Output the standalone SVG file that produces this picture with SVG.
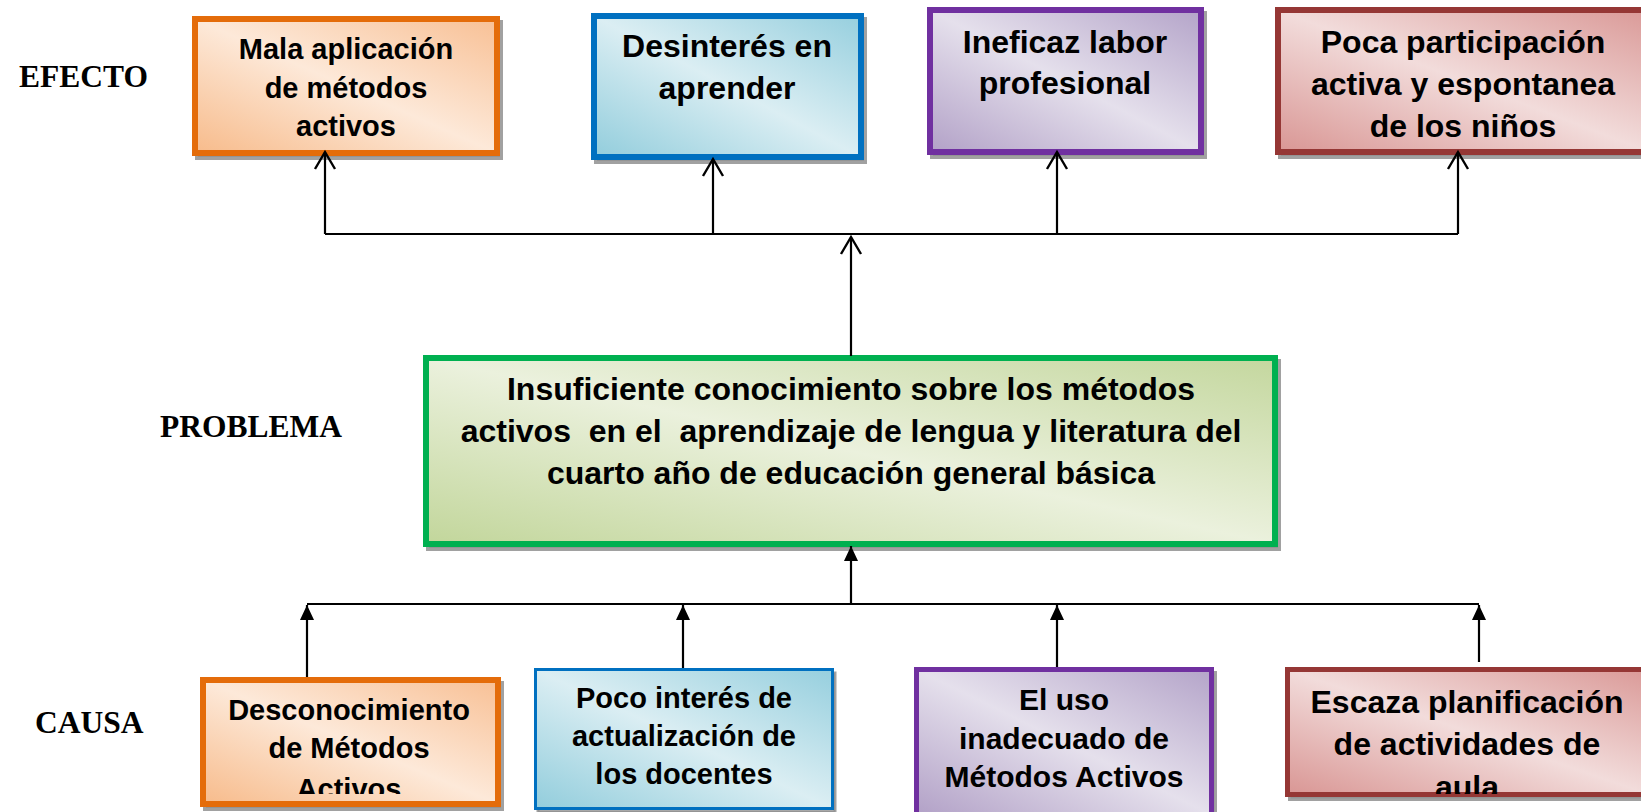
<svg xmlns="http://www.w3.org/2000/svg" width="1641" height="812" viewBox="0 0 1641 812">
<style>
.lbl{font-family:"Liberation Serif","Times New Roman",serif;font-weight:bold;font-size:31.5px;fill:#000}
.bt{font-family:"Liberation Sans",Arial,sans-serif;font-weight:bold;fill:#000;text-anchor:middle}
.f29{font-size:29px}
.f30{font-size:30px}
.f32{font-size:32px}
.shadow{fill:#bdbdbd;stroke:#8a8a8a;stroke-opacity:0.8}
.conn{fill:none;stroke:#000;stroke-width:2.2}
</style>
<defs>
<linearGradient id="gOr" x1="0" y1="1" x2="1" y2="0"><stop offset="0" stop-color="#f7bb8b"/><stop offset="0.5" stop-color="#fde9d9"/><stop offset="1" stop-color="#f8c095"/></linearGradient>
<linearGradient id="gBl" x1="0" y1="1" x2="1" y2="0"><stop offset="0" stop-color="#92cddc"/><stop offset="0.5" stop-color="#dbeef3"/><stop offset="1" stop-color="#96cfde"/></linearGradient>
<linearGradient id="gPu" x1="0" y1="1" x2="1" y2="0"><stop offset="0" stop-color="#b2a1c7"/><stop offset="0.5" stop-color="#e5e0ec"/><stop offset="1" stop-color="#b4a4c9"/></linearGradient>
<linearGradient id="gRe" x1="0" y1="1" x2="1" y2="0"><stop offset="0" stop-color="#d99694"/><stop offset="0.5" stop-color="#f2dcdb"/><stop offset="1" stop-color="#da9997"/></linearGradient>
<linearGradient id="gGr" x1="0" y1="1" x2="1" y2="0"><stop offset="0" stop-color="#c2d69b"/><stop offset="0.5" stop-color="#ebf1dd"/><stop offset="1" stop-color="#c4d79e"/></linearGradient>
<marker id="openArrow" markerUnits="userSpaceOnUse" viewBox="-20 -12 24 24" refX="0" refY="0" markerWidth="24" markerHeight="24" orient="auto" overflow="visible">
<path d="M-17,-10 L0,0 L-17,10" fill="none" stroke="#000" stroke-width="2.4"/>
</marker>
<marker id="fillArrow" markerUnits="userSpaceOnUse" viewBox="-16 -8 18 16" refX="0" refY="0" markerWidth="18" markerHeight="16" orient="auto" overflow="visible">
<path d="M-15,-7 L0,0 L-15,7 Z" fill="#000"/>
</marker>
<clipPath id="clipC1"><rect x="200" y="677" width="301" height="117"/></clipPath>
<clipPath id="clipC4"><rect x="1285" y="667" width="370" height="127"/></clipPath>
</defs>
<rect width="1641" height="812" fill="#fff"/>

<g id="labels">
<text class="lbl" x="19" y="87">EFECTO</text>
<text class="lbl" x="160" y="437">PROBLEMA</text>
<text class="lbl" x="35" y="733">CAUSA</text>
</g>

<g id="effect1">
<rect class="shadow" x="198" y="23" width="302" height="134" stroke-width="6"/>
<rect x="195" y="19" width="302" height="134" fill="url(#gOr)" stroke="#e46c0a" stroke-width="6"/>
<text class="bt f29" x="346" y="59">Mala aplicación</text>
<text class="bt f29" x="346" y="98">de métodos</text>
<text class="bt f29" x="346" y="136">activos</text>
</g>

<g id="effect2">
<rect class="shadow" x="597" y="20" width="267" height="141" stroke-width="6"/>
<rect x="594" y="16" width="267" height="141" fill="url(#gBl)" stroke="#0070c0" stroke-width="6"/>
<text class="bt f32" x="727" y="57">Desinterés en</text>
<text class="bt f32" x="727" y="99">aprender</text>
</g>

<g id="effect3">
<rect class="shadow" x="933" y="14" width="271" height="142" stroke-width="6"/>
<rect x="930" y="10" width="271" height="142" fill="url(#gPu)" stroke="#7030a0" stroke-width="6"/>
<text class="bt f32" x="1065" y="53">Ineficaz labor</text>
<text class="bt f32" x="1065" y="94">profesional</text>
</g>

<g id="effect4">
<rect class="shadow" x="1281" y="14" width="372" height="142" stroke-width="6"/>
<rect x="1278" y="10" width="372" height="142" fill="url(#gRe)" stroke="#953735" stroke-width="6"/>
<text class="bt f32" x="1463" y="53">Poca participación</text>
<text class="bt f32" x="1463" y="95">activa y espontanea</text>
<text class="bt f32" x="1463" y="137">de los niños</text>
</g>

<g id="problem">
<rect class="shadow" x="429" y="362" width="849" height="186" stroke-width="6"/>
<rect x="426" y="358" width="849" height="186" fill="url(#gGr)" stroke="#00b050" stroke-width="6"/>
<text class="bt f32" x="851" y="400">Insuficiente conocimiento sobre los métodos</text>
<text class="bt f32" x="851" y="442" xml:space="preserve" style="white-space:pre">activos  en el  aprendizaje de lengua y literatura del</text>
<text class="bt f32" x="851" y="484">cuarto año de educación general básica</text>
</g>

<g id="cause1">
<rect class="shadow" x="206" y="684" width="295" height="124" stroke-width="6"/>
<rect x="203" y="680" width="295" height="124" fill="url(#gOr)" stroke="#e46c0a" stroke-width="6"/>
<g clip-path="url(#clipC1)">
<text class="bt f29" x="349" y="720">Desconocimiento</text>
<text class="bt f29" x="349" y="758">de Métodos</text>
<text class="bt f29" x="349" y="799">Activos</text>
</g>
</g>

<g id="cause2">
<rect class="shadow" x="538" y="673" width="297" height="139" stroke-width="3"/>
<rect x="535.5" y="669.5" width="297" height="139" fill="url(#gBl)" stroke="#0070c0" stroke-width="3"/>
<text class="bt f29" x="684" y="708">Poco interés de</text>
<text class="bt f29" x="684" y="746">actualización de</text>
<text class="bt f29" x="684" y="784">los docentes</text>
</g>

<g id="cause3">
<rect class="shadow" x="919.5" y="673.5" width="295" height="145" stroke-width="5"/>
<rect x="916.5" y="669.5" width="295" height="145" fill="url(#gPu)" stroke="#7030a0" stroke-width="5"/>
<text class="bt f30" x="1064" y="710">El uso</text>
<text class="bt f30" x="1064" y="749">inadecuado de</text>
<text class="bt f30" x="1064" y="787">Métodos Activos</text>
</g>

<g id="cause4">
<rect class="shadow" x="1290.5" y="673.5" width="362" height="125" stroke-width="5"/>
<rect x="1287.5" y="669.5" width="362" height="125" fill="url(#gRe)" stroke="#953735" stroke-width="5"/>
<g clip-path="url(#clipC4)">
<text class="bt f32" x="1467" y="713">Escaza planificación</text>
<text class="bt f32" x="1467" y="755">de actividades de</text>
<text class="bt f32" x="1467" y="798">aula</text>
</g>
</g>

<g id="connectors">
<path class="conn" d="M325,234 H1458"/>
<path class="conn" d="M325,234 V152" marker-end="url(#openArrow)"/>
<path class="conn" d="M713,234 V159" marker-end="url(#openArrow)"/>
<path class="conn" d="M1057,234 V152" marker-end="url(#openArrow)"/>
<path class="conn" d="M1458,234 V152" marker-end="url(#openArrow)"/>
<path class="conn" d="M851,356 V237" marker-end="url(#openArrow)"/>
<path class="conn" d="M307,604 H1479"/>
<path class="conn" d="M851,604 V546" marker-end="url(#fillArrow)"/>
<path class="conn" d="M307,677 V605" marker-end="url(#fillArrow)"/>
<path class="conn" d="M683,668 V605" marker-end="url(#fillArrow)"/>
<path class="conn" d="M1057,667 V605" marker-end="url(#fillArrow)"/>
<path class="conn" d="M1479,662 V605" marker-end="url(#fillArrow)"/>
</g>
</svg>
